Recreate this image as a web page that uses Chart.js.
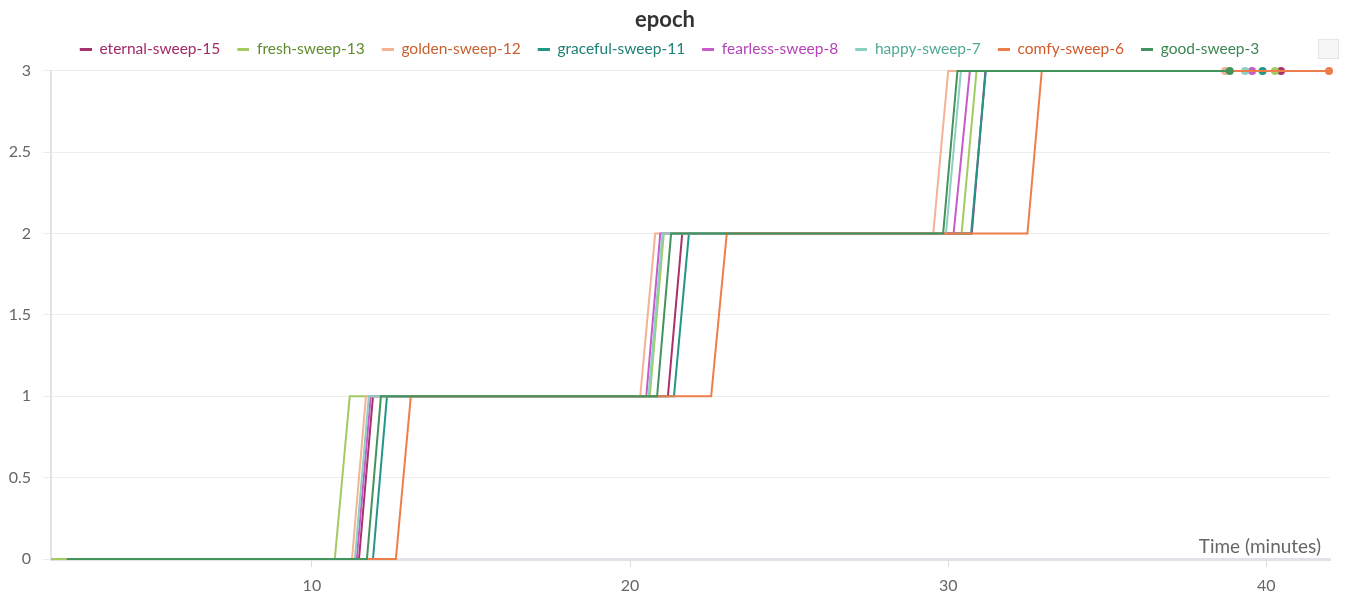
<!DOCTYPE html>
<html>
<head>
<meta charset="utf-8">
<script src="https://cdn.jsdelivr.net/npm/chart.js@4"></script>
<style>
  html, body { margin: 0; padding: 0; background: #fff; }
  #wrap { width: 1349px; height: 601px; }
</style>
</head>
<body>
<div id="wrap"><canvas id="epochChart"></canvas></div>
<script>
// run names as shown in the legend
const runNames = ["eternal-sweep-15", "fresh-sweep-13", "golden-sweep-12", "graceful-sweep-11",
    "fearless-sweep-8", "happy-sweep-7", "comfy-sweep-6", "good-sweep-3"];

// epoch value at each logged point (same for every run)
const epochValues = [0, 0, 1, 1, 2, 2, 3, 3];

// time (minutes) of each logged point, per run
const eternalTimes = [2.3, 11.48, 11.92, 21.19, 21.64, 30.74, 31.17, 40.46];
const freshTimes = [1.8, 10.72, 11.19, 20.62, 21.06, 30.42, 30.89, 40.27];
const goldenTimes = [2.3, 11.26, 11.70, 20.32, 20.79, 29.53, 30.00, 38.70];
const gracefulTimes = [2.3, 11.92, 12.36, 21.38, 21.85, 30.72, 31.18, 39.88];
const fearlessTimes = [2.3, 11.41, 11.85, 20.51, 20.95, 30.17, 30.68, 39.55];
const happyTimes = [2.3, 11.35, 11.79, 20.58, 21.02, 29.93, 30.40, 39.33];
const comfyTimes = [2.3, 12.64, 13.11, 22.55, 23.04, 32.49, 32.94, 41.97];
const goodTimes = [2.3, 11.73, 12.17, 20.85, 21.29, 29.84, 30.29, 38.85];

const runTimes = [eternalTimes, freshTimes, goldenTimes, gracefulTimes,
    fearlessTimes, happyTimes, comfyTimes, goodTimes];

const xTickValues = [10, 20, 30, 40];

const lineColors = ["#A8326E", "#A3CB63", "#F4B394", "#23968A", "#C75BCB", "#8BD0C0", "#EE7D4C", "#43945C"];
const textColors = ["#A12A66", "#5E8C2C", "#C9602F", "#1E8076", "#B543B8", "#4FA996", "#D2592A", "#3D8752"];

const FONT = "Lato, 'Noto Sans', sans-serif";

document.addEventListener("DOMContentLoaded", function () {
    buildChart();
});

/* Short dash used as legend marker, with some blank space on its left. */
function makeLegendDash(color) {
    const c = document.createElement("canvas");
    c.width = 21;
    c.height = 3;
    const g = c.getContext("2d");
    g.fillStyle = color;
    g.fillRect(9, 0, 12, 3);
    return c;
}

/* Leaves a little room between the legend and the plot. */
const legendGap = {
    id: "legendGap",
    beforeInit(chart) {
        const fit = chart.legend.fit;
        chart.legend.fit = function () {
            fit.call(this);
            this.height += 4;
        };
    },
};

/* Extra bits of the wandb panel: axis caption inside the plot, and the legend scroll box. */
const panelExtras = {
    id: "panelExtras",
    afterDraw(chart) {
        const ctx = chart.ctx;
        const area = chart.chartArea;
        ctx.save();
        ctx.font = "19px " + FONT;
        ctx.fillStyle = "#666";
        ctx.textAlign = "right";
        ctx.textBaseline = "alphabetic";
        ctx.fillText("Time (minutes)", area.right - 9, area.bottom - 6);

        ctx.fillStyle = "#f6f6f6";
        ctx.strokeStyle = "#e6e6e6";
        ctx.fillRect(1318, 39, 20, 19);
        ctx.strokeRect(1318.5, 39.5, 20, 19);
        ctx.restore();
    },
};

function buildChart() {
    const ctx = document.getElementById("epochChart").getContext("2d");
    const n = runNames.length;

    const datasets = runNames.map((name, i) => ({
        label: name,
        data: runTimes[i].map((t, j) => ({ x: t, y: epochValues[j] })),
        borderColor: lineColors[i],
        backgroundColor: lineColors[i],
        borderWidth: 2,
        tension: 0,
        clip: false,
        // only the last logged point gets a dot
        pointRadius: (c) => (c.dataIndex === runTimes[i].length - 1 ? 4 : 0),
        pointBorderWidth: 0,
        order: n - i,
    }));

    new Chart(ctx, {
        type: "line",
        data: { datasets: datasets },
        plugins: [legendGap, panelExtras],
        options: {
            responsive: true,
            maintainAspectRatio: false,
            animation: false,
            layout: { padding: { left: 0, right: 19, top: 0, bottom: 0 } },
            plugins: {
                tooltip: { enabled: false },
                title: {
                    display: true,
                    text: "epoch",
                    color: "#333",
                    font: { family: FONT, size: 22, weight: "bold" },
                    padding: { top: 7, bottom: 0 },
                },
                legend: {
                    display: true,
                    labels: {
                        usePointStyle: true,
                        pointStyleWidth: 21,
                        padding: 8,
                        font: { family: FONT, size: 15.5 },
                        generateLabels: (chart) =>
                            chart.data.datasets.map((ds, i) => ({
                                text: ds.label,
                                fillStyle: ds.borderColor,
                                strokeStyle: ds.borderColor,
                                lineWidth: 0,
                                pointStyle: makeLegendDash(ds.borderColor),
                                fontColor: textColors[i],
                                datasetIndex: i,
                                hidden: false,
                            })),
                    },
                },
            },
            scales: {
                x: {
                    type: "linear",
                    min: 1.8,
                    max: 42,
                    afterBuildTicks: (axis) => {
                        axis.ticks = xTickValues.map((v) => ({ value: v }));
                    },
                    afterFit: (axis) => {
                        axis.height = 42;
                    },
                    grid: {
                        drawOnChartArea: false,
                        color: "#dcdce2",
                        tickLength: 8,
                    },
                    border: { color: "#e2e2e8", width: 3 },
                    ticks: {
                        color: "#666",
                        font: { family: FONT, size: 16 },
                        padding: 9,
                        maxRotation: 0,
                    },
                },
                y: {
                    min: 0,
                    max: 3,
                    ticks: {
                        stepSize: 0.5,
                        color: "#666",
                        font: { family: FONT, size: 16 },
                        padding: 12,
                        callback: (v) => String(v),
                    },
                    afterFit: (axis) => {
                        axis.width = 51;
                    },
                    grid: { color: "#ececec", tickLength: 8 },
                    border: { color: "#e2e2e8", width: 2 },
                },
            },
        },
    });
}
</script>
</body>
</html>
